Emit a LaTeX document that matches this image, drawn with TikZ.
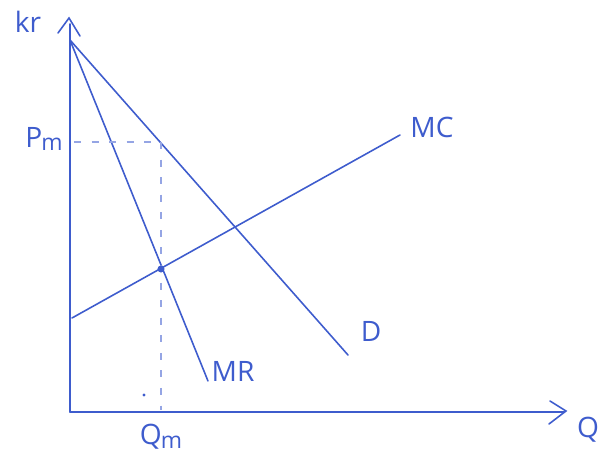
\documentclass[tikz,border=0pt]{standalone}
\usepackage{fontspec}
\setmainfont{Open Sans}
\begin{document}
\begin{tikzpicture}[x=0.02cm,y=-0.02cm,
  ink/.style={draw=inkblue, line width=0.9pt, line cap=round},
  guide/.style={draw=inkblue!55, line width=0.6pt, dash pattern=on 4pt off 6pt},
  lbl/.style={text=inkblue, font=\fontsize{16}{17}\selectfont, inner sep=1pt},
  sub/.style={}]
\definecolor{inkblue}{RGB}{62,92,205}
\useasboundingbox (0,0) rectangle (600,459);
% axes
\coordinate (O) at (70,412);
\coordinate (Ytop) at (70,24);
\coordinate (Xend) at (564,412);
\draw[ink] (O) -- (Ytop);
\draw[ink] (O) -- (Xend);
\draw[ink] (58,33) -- (69,18) -- (80,36);
\draw[ink] (550,401) -- (566,411) -- (549,424);
% curves
\coordinate (A) at (70,40);
\coordinate (Dend) at (348,355);
\coordinate (MRend) at (208,381);
\coordinate (MCstart) at (72,318);
\coordinate (MCend) at (400,135);
\draw[ink] (A) -- (Dend);
\draw[ink] (A) -- (MRend);
\draw[ink] (MCstart) -- (MCend);
% monopoly point
\coordinate (Pm) at (74,142);
\coordinate (Dpt) at (161,142);
\coordinate (Qm) at (161,410);
\draw[guide] (Pm) -- (Dpt);
\draw[guide] (Dpt) -- (Qm);
\node[circle, fill=inkblue, inner sep=0pt, minimum size=4pt] (E) at (161,269) {};
\node[circle, fill=inkblue, inner sep=0pt, minimum size=1.8pt] (stray) at (144,395) {};
% labels
\node[lbl] (kr) at (28,22) {kr};
\node[lbl] (pm) at (44,139) {P\kern-0.5pt\raisebox{-2pt}{\fontsize{13}{14}\selectfont m}};
\node[lbl] (qm) at (161,437) {Q\kern-0.5pt\raisebox{-2pt}{\fontsize{13}{14}\selectfont m}};
\node[lbl] (mc) at (432,127) {MC};
\node[lbl] (d) at (371,331) {D};
\node[lbl] (mr) at (233,371) {MR};
\node[lbl] (q) at (588,430) {Q};
\end{tikzpicture}
\end{document}
